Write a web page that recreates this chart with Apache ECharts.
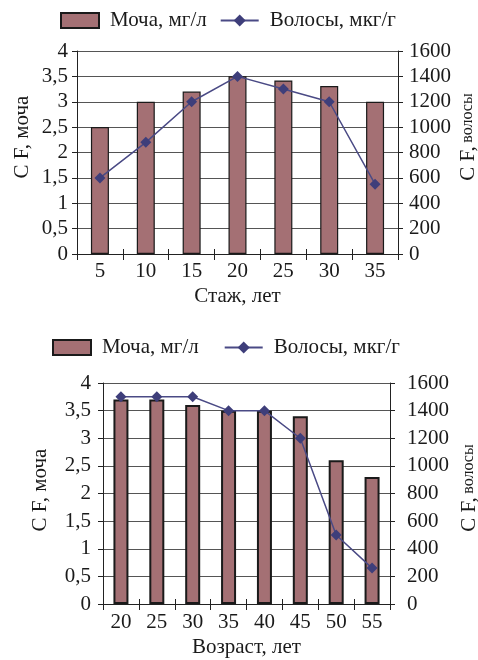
<!DOCTYPE html>
<html><head><meta charset="utf-8">
<script src="https://cdn.jsdelivr.net/npm/echarts@6/dist/echarts.min.js"></script>
<style>html,body{margin:0;padding:0;background:#fff}#c{width:478px;height:660px}</style>
</head><body><div id="c"></div>
<script>
// ---- data ----
const stazhCats = ['5','10','15','20','25','30','35'];
const urineStazh = [2.5, 3.0, 3.2, 3.5, 3.42, 3.31, 3.0];
const hairStazh = [600, 880, 1200, 1400, 1300, 1200, 550];
const ageCats = ['20','25','30','35','40','45','50','55'];
const urineAge = [3.7, 3.7, 3.6, 3.5, 3.5, 3.4, 2.6, 2.3];
const hairAge = [1500, 1500, 1500, 1400, 1400, 1200, 500, 260];
const urineAxis = {min: 0, max: 4, interval: 0.5};
const hairAxis = {min: 0, max: 1600, interval: 200};
const seriesNames = ['Моча, мг/л', 'Волосы, мкг/г'];
const xNames = ['Стаж, лет', 'Возраст, лет'];
const yNameLeft = 'C F, моча';
const yNameRight = ['C F,', 'волосы'];

const FONT = 'Liberation Serif';
const TXT = '#1a1a1a';
const BAR = '#A47074';
const LINE = '#4A4A85';
const fmt = v => String(v).replace('.', ',');

function xAxes(grid, cats, name, margin, gap) {
  return [{
    type: 'category', gridIndex: grid, data: cats, position: 'bottom',
    name: name, nameLocation: 'middle', nameGap: gap,
    nameTextStyle: {fontFamily: FONT, fontSize: 21, color: TXT},
    axisLine: {lineStyle: {color: '#222', width: 1}},
    axisTick: {show: true, alignWithLabel: false, length: 6, lineStyle: {color: '#222'}},
    axisLabel: {fontFamily: FONT, fontSize: 21, color: TXT, margin: margin, interval: 0},
    splitLine: {show: false}
  }, {
    type: 'category', gridIndex: grid, data: cats, position: 'bottom',
    axisLine: {show: false},
    axisTick: {show: true, inside: true, alignWithLabel: false, length: 5, lineStyle: {color: '#222'}},
    axisLabel: {show: false}, splitLine: {show: false}
  }];
}
function yAxes(grid, lm, rm) {
  return [{
    type: 'value', gridIndex: grid, position: 'left',
    min: urineAxis.min, max: urineAxis.max, interval: urineAxis.interval,
    axisLine: {show: true, lineStyle: {color: '#222'}},
    axisTick: {show: true, length: 5, lineStyle: {color: '#222'}},
    axisLabel: {fontFamily: FONT, fontSize: 21, color: TXT, margin: lm, formatter: fmt},
    splitLine: {show: true, lineStyle: {color: '#555', width: 1}}
  }, {
    type: 'value', gridIndex: grid, position: 'right',
    min: hairAxis.min, max: hairAxis.max, interval: hairAxis.interval,
    axisLine: {show: true, lineStyle: {color: '#222'}},
    axisTick: {show: true, length: 5, lineStyle: {color: '#222'}},
    axisLabel: {fontFamily: FONT, fontSize: 21, color: TXT, margin: rm, formatter: fmt},
    splitLine: {show: false}
  }];
}
function legend(top, left, gap) {
  return {
    top: top, left: left, itemGap: gap, itemWidth: 38, itemHeight: 15, padding: 0,
    data: [{name: seriesNames[0], icon: 'rect'}, {name: seriesNames[1]}],
    textStyle: {fontFamily: FONT, fontSize: 21, color: TXT, padding: [0, 0, 0, 6]}
  };
}
function pair(xi, yi, bars, line, bw, bdw) {
  return [{
    name: seriesNames[0], type: 'bar', xAxisIndex: xi, yAxisIndex: yi,
    data: bars, barWidth: bw,
    itemStyle: {color: BAR, borderColor: '#1a1a1a', borderWidth: bdw}
  }, {
    name: seriesNames[1], type: 'line', xAxisIndex: xi, yAxisIndex: yi + 1,
    data: line, symbol: 'diamond', symbolSize: 11,
    lineStyle: {color: LINE, width: 1.5},
    itemStyle: {color: '#3E3E7A'}
  }];
}
function rightName(x, y) {
  return {type: 'text', x: x, y: y, rotation: Math.PI / 2,
    style: {text: '{a|' + yNameRight[0] + '} {b|' + yNameRight[1] + '}',
      align: 'center', verticalAlign: 'middle', fill: TXT,
      rich: {a: {fontFamily: FONT, fontSize: 21, fill: TXT}, b: {fontFamily: FONT, fontSize: 16, fill: TXT}}}};
}
function leftName(x, y) {
  return {type: 'text', x: x, y: y, rotation: Math.PI / 2,
    style: {text: yNameLeft, align: 'center', verticalAlign: 'middle', fill: TXT,
      fontFamily: FONT, fontSize: 21}};
}

const chart = echarts.init(document.getElementById('c'));
chart.setOption({
  backgroundColor: '#fff',
  animation: false,
  legend: [legend(10, 60, 13), legend(337, 52, 25)],
  grid: [
    {left: 77, right: 80, top: 51, height: 203, outerBoundsMode: 'none', containLabel: false},
    {left: 103, right: 88, top: 383, height: 221, outerBoundsMode: 'none', containLabel: false}
  ],
  xAxis: [...xAxes(0, stazhCats, xNames[0], 7, 32), ...xAxes(1, ageCats, xNames[1], 8, 33)],
  yAxis: [...yAxes(0, 9, 11), ...yAxes(1, 12, 17)],
  series: [...pair(0, 0, urineStazh, hairStazh, 18, 1.2), ...pair(2, 2, urineAge, hairAge, 15, 2)],
  graphic: [leftName(22, 137), rightName(468, 137), leftName(40, 490), rightName(469, 488)]
});
</script></body></html>
